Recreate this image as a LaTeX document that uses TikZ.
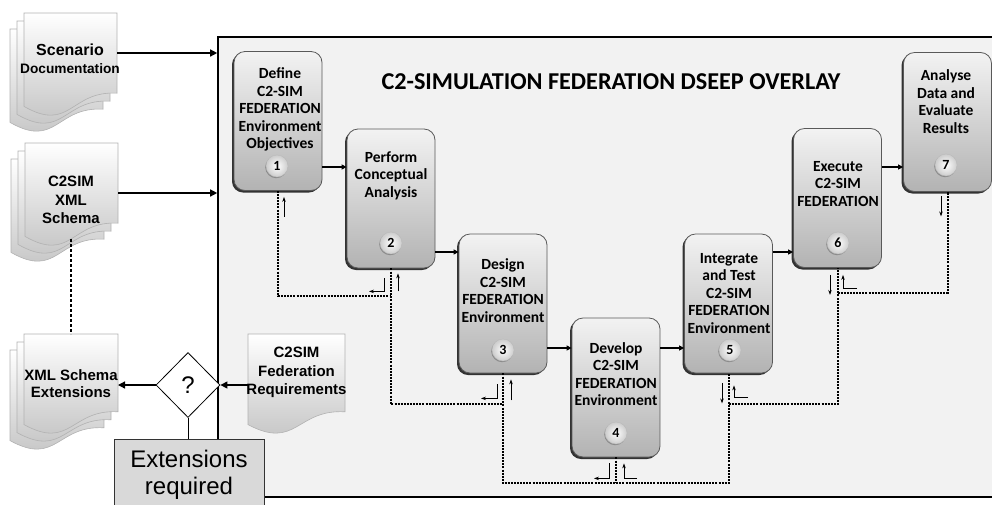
\documentclass[tikz,border=0pt]{standalone}
\usepackage{fontspec}
\setmainfont{Liberation Sans}
\newfontfamily\calib{Carlito}
\usetikzlibrary{arrows.meta,shapes.geometric,shadows,calc}
\definecolor{mainbg}{RGB}{242,242,242}
\definecolor{extbg}{RGB}{217,217,217}
\newcommand\docpage[4]{%
 \path[draw=gray!60, line width=0.6pt, top color=white, bottom color=gray!50]
 (#1,#2) -- ({#1+#3},#2) -- ({#1+#3},{#2+0.802*#4})
 .. controls ({#1+0.5*#3},{#2+0.773*#4}) and ({#1+0.5*#3},{#2+1.2*#4}) .. (#1,{#2+0.934*#4}) -- cycle;}
\newcommand\multidoc[4]{\docpage{#1-14}{#2+16}{#3}{#4}\docpage{#1-7}{#2+8}{#3}{#4}\docpage{#1}{#2}{#3}{#4}}
\begin{document}
\begin{tikzpicture}[x=1pt,y=-1pt,
  mainbox/.style={draw=black, line width=1.6pt, fill=mainbg, minimum width=782pt, minimum height=460pt, inner sep=0pt},
  stepbox/.style={draw=black!65, line width=0.8pt, rounded corners=11pt, minimum width=88pt, minimum height=139pt,
     top color=gray!10, bottom color=gray!60, inner sep=0pt,
     drop shadow={shadow xshift=-2pt, shadow yshift=-2pt, fill=black!80, opacity=1}},
  steptext/.style={font=\calib\bfseries\fontsize{15.5}{17.5}\selectfont, align=center, inner sep=0pt},
  ballnum/.style={circle, minimum size=22pt, inner sep=0pt, inner color=white, outer color=gray!40, draw=gray!55, line width=0.4pt,
     drop shadow={shadow xshift=-0.8pt, shadow yshift=-1.2pt, fill=black!45, opacity=1},
     font=\calib\bfseries\fontsize{14}{14}\selectfont},
  doctext/.style={font=\bfseries\fontsize{15}{18.5}\selectfont, align=center, inner sep=0pt},
  flow/.style={line width=1.8pt, -{Triangle[length=5pt,width=5pt]}},
  inarrow/.style={line width=1.3pt, -{Triangle[length=7pt,width=7pt]}},
  fb/.style={line width=2pt, dash pattern=on 2pt off 1.1pt},
  fbthick/.style={line width=2.8pt, dash pattern=on 2.8pt off 2.2pt},
  tiny/.style={line width=0.7pt, -{Stealth[length=5pt,width=3.5pt]}}
]
\useasboundingbox (0,0) rectangle (992,504);
% main overlay box
\node[mainbox] (main) at (609,267) {};
% documents
\multidoc{24}{13}{93}{100}
\multidoc{25}{143}{93}{100}
\multidoc{24}{334}{94}{97}
\docpage{248}{334}{97}{97}
\node[doctext] (d1) at (70,59) {{\fontsize{16}{19}\selectfont Scenario}\\[-1pt]{\fontsize{13.7}{16}\selectfont Documentation}};
\node[doctext] (d2) at (71,200) {C2SIM\\XML\\Schema};
\node[doctext, font=\bfseries\fontsize{15}{17}\selectfont] (d3) at (71,383.5) {XML Schema\\Extensions};
\node[doctext] (d4) at (296.5,372.5) {C2SIM\\Federation\\Requirements};
\coordinate (d1r) at (117,53);
\coordinate (d2r) at (118,193);
\coordinate (d2b) at (71,239);
\coordinate (d3t) at (71,334);
\coordinate (d3r) at (118,385);
\coordinate (d4l) at (248,385);
\draw[inarrow] (d1r) -- (d1r -| main.west);
\draw[inarrow] (d2r) -- (d2r -| main.west);
\draw[fbthick] (d2b) -- (d3t);
% title
\node[font=\calib\bfseries\fontsize{24.2}{28}\selectfont, inner sep=0pt] (title) at (611,82) {C2-SIMULATION FEDERATION DSEEP OVERLAY};
% steps
\node[stepbox] (s1) at (278,121) {};
\node[stepbox] (s2) at (391,198.5) {};
\node[stepbox] (s3) at (503,303.5) {};
\node[stepbox] (s4) at (616,387.5) {};
\node[stepbox] (s5) at (728.5,303.5) {};
\node[stepbox] (s6) at (837.5,198) {};
\node[stepbox] (s7) at (947.5,122) {};
\node[steptext] (t1) at (280,109.5) {Define\\C2-SIM\\FEDERATION\\Environment\\Objectives};
\node[steptext] (t2) at (391,175.5) {Perform\\Conceptual\\Analysis};
\node[steptext] (t3) at (503,290.5) {Design\\C2-SIM\\FEDERATION\\Environment};
\node[steptext] (t4) at (616,374) {Develop\\C2-SIM\\FEDERATION\\Environment};
\node[steptext] (t5) at (729,293.5) {Integrate\\and Test\\C2-SIM\\FEDERATION\\Environment};
\node[steptext] (t6) at (838,184) {Execute\\C2-SIM\\FEDERATION};
\node[steptext] (t7) at (946,101.5) {Analyse\\Data and\\Evaluate\\Results};
\node[ballnum] (c1) at (277,166) {1};
\node[ballnum] (c2) at (391,243) {2};
\node[ballnum] (c3) at (503,350) {3};
\node[ballnum] (c4) at (616,433) {4};
\node[ballnum] (c5) at (730,350) {5};
\node[ballnum] (c6) at (838,243) {6};
\node[ballnum] (c7) at (946,165) {7};
% flow arrows
\coordinate (a12) at ([yshift=-46pt]s1.east);
\coordinate (a23) at ([yshift=-53.5pt]s2.east);
\coordinate (a34) at ([yshift=-44.5pt]s3.east);
\coordinate (a45) at ([yshift=-44.5pt]s5.west);
\coordinate (a56) at ([yshift=-54pt]s6.west);
\coordinate (a67) at ([yshift=-45pt]s7.west);
\draw[flow] (a12) -- (a12 -| s2.west);
\draw[flow] (a23) -- (a23 -| s3.west);
\draw[flow] (a34) -- (a34 -| s4.west);
\draw[flow] (a45 -| s4.east) -- (a45);
\draw[flow] (a56 -| s5.east) -- (a56);
\draw[flow] (a67 -| s6.east) -- (a67);
% feedback dotted lines
\draw[fb] (s1.south) |- ($(s2.south)+(0,28)$);
\draw[fb] (s2.south) |- ($(s3.south)+(0,31)$);
\draw[fb] (s3.south) |- ($(s4.south)+(0,26)$) -| (s5.south);
\draw[fb] (s4.south) -- ($(s4.south)+(0,26)$);
\draw[fb] ($(s5.south)+(0,31)$) -| (s6.south);
\draw[fb] ($(s6.south)+(0,25)$) -| (s7.south);
% small arrows
\draw[tiny] ($(s1.south)+(6,26)$) -- ($(s1.south)+(6,6)$);
\draw[tiny] ($(s2.south)+(-7,10)$) -- ($(s2.south)+(-7,23)$) -- ($(s2.south)+(-22,23)$);
\draw[tiny] ($(s2.south)+(7,23)$) -- ($(s2.south)+(7,5)$);
\draw[tiny] ($(s3.south)+(-6,11)$) -- ($(s3.south)+(-6,25)$) -- ($(s3.south)+(-22,25)$);
\draw[tiny] ($(s3.south)+(8,27)$) -- ($(s3.south)+(8,6)$);
\draw[tiny] ($(s4.south)+(-7,6)$) -- ($(s4.south)+(-7,21)$) -- ($(s4.south)+(-22,21)$);
\draw[tiny] ($(s4.south)+(21,21)$) -- ($(s4.south)+(8,21)$) -- ($(s4.south)+(8,6)$);
\draw[tiny] ($(s5.south)+(-6.5,10)$) -- ($(s5.south)+(-6.5,30)$);
\draw[tiny] ($(s5.south)+(19.5,24)$) -- ($(s5.south)+(5.5,24)$) -- ($(s5.south)+(5.5,12)$);
\draw[tiny] ($(s6.south)+(-7.5,7)$) -- ($(s6.south)+(-7.5,27)$);
\draw[tiny] ($(s6.south)+(19.5,20)$) -- ($(s6.south)+(5.5,20)$) -- ($(s6.south)+(5.5,7)$);
\draw[tiny] ($(s7.south)+(-6.5,4.5)$) -- ($(s7.south)+(-6.5,24.5)$);
% decision
\node[diamond, draw=black, line width=0.8pt, fill=white, minimum width=64pt, minimum height=65pt, inner sep=0pt,
      font=\fontsize{24}{24}\selectfont] (q) at (188,385) {?};
\draw[inarrow] (q.west) -- (d3r);
\draw[inarrow] (d4l) -- (q.east);
\node[draw=black!80, line width=1pt, fill=extbg, minimum width=150pt, minimum height=72pt, inner sep=0pt, align=center,
      font=\fontsize{24}{27}\selectfont] (ext) at (189,475) {Extensions\\required};
\draw[line width=0.8pt] (q.south) -- (ext.north -| q.south);
\end{tikzpicture}
\end{document}
